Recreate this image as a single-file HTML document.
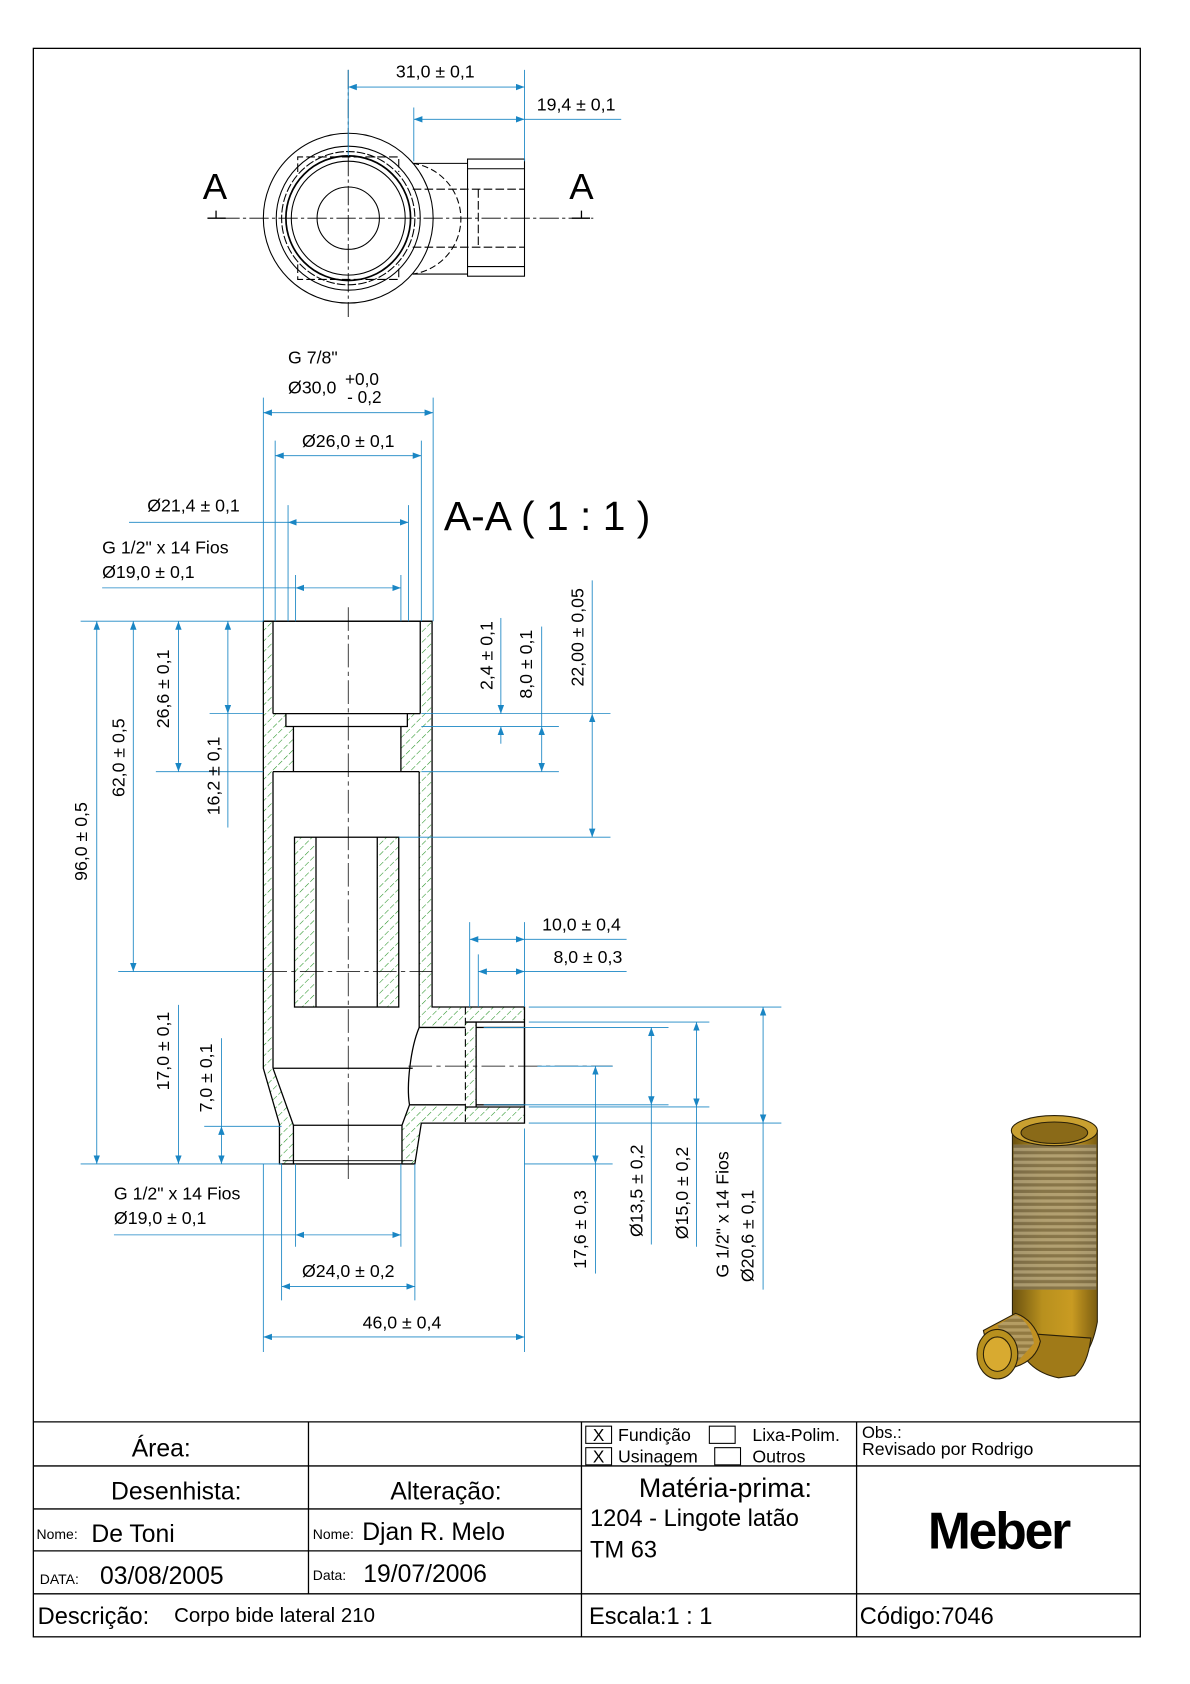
<!DOCTYPE html>
<html><head><meta charset="utf-8">
<style>
html,body{margin:0;padding:0;background:#fff;}
svg{display:block;}
text{font-family:"Liberation Sans",Arial,sans-serif;}
</style></head>
<body>
<svg width="1190" height="1684" viewBox="0 0 1107.2 1566.9" xmlns="http://www.w3.org/2000/svg">
<defs>
<marker id="ar" viewBox="0 0 8 6" refX="8" refY="3" markerWidth="8" markerHeight="6" markerUnits="userSpaceOnUse" orient="auto-start-reverse"><path d="M0,0 L8,3 L0,6 z" fill="#1a86c4"/></marker>
<pattern id="h" patternUnits="userSpaceOnUse" width="7" height="7" patternTransform="rotate(45)"><line x1="0" y1="0" x2="0" y2="7" stroke="#1f8f1f" stroke-width="1" stroke-dasharray="5 2"/></pattern>
<linearGradient id="cyl" x1="0" x2="1" y1="0" y2="0"><stop offset="0" stop-color="#6b5210"/><stop offset="0.35" stop-color="#b8901e"/><stop offset="0.7" stop-color="#c99b22"/><stop offset="1" stop-color="#7a5c10"/></linearGradient>
<pattern id="thr" patternUnits="userSpaceOnUse" width="10" height="6"><rect width="10" height="6" fill="#7e7050"/><rect y="0" width="10" height="3" fill="#b0a27f"/></pattern>
</defs>

<rect x="31" y="45" width="1030" height="1478" fill="none" stroke="#000" stroke-width="1.2"/>

<!-- TOP VIEW -->
<g fill="none" stroke="#000" stroke-width="1">
<circle cx="324" cy="203" r="79"/>
<circle cx="324" cy="203" r="67"/>
<circle cx="324" cy="203" r="62" stroke-dasharray="8 2"/>
<circle cx="324" cy="203" r="58" stroke-width="1.6"/>
<circle cx="324" cy="203" r="53"/>
<circle cx="324" cy="203" r="29"/>
<path d="M277,160 V146 H371 V160 M277,246 V260 H371 V246" stroke-dasharray="8 3"/>
<path d="M384,152 L435,152 M384,255 L435,255"/>
<path d="M384,152 A52,52 0 0 1 384,255" stroke-dasharray="6 3"/>
<rect x="435" y="148" width="53" height="109"/>
<path d="M435,157 H488 M435,248 H488"/>
<path d="M384,176 H488 M384,230 H488 M445,176 V230" stroke-dasharray="8 3"/>
</g>
<g stroke="#000" stroke-width="0.8" fill="none">
<path d="M205,203 H552" stroke-dasharray="18 3 3 3"/>
<path d="M324,65 V295" stroke-dasharray="18 3 3 3"/>
<path d="M193,203 H210 M201,196 V203 M532,203 H549 M541,196 V203" stroke-width="1.2"/>
</g>
<text x="200" y="185" font-size="34" text-anchor="middle">A</text>
<text x="541" y="185" font-size="34" text-anchor="middle">A</text>

<g stroke="#1a86c4" stroke-width="0.8" fill="none">
<path d="M324,65 V145 M385,100 V150 M488,65 V150"/>
<path d="M324,81 H488" marker-start="url(#ar)" marker-end="url(#ar)"/>
<path d="M385,111 H488" marker-start="url(#ar)" marker-end="url(#ar)"/>
<path d="M488,111 H578"/>
</g>
<g font-size="16.5" fill="#000">
<text x="405" y="72" text-anchor="middle">31,0 ± 0,1</text>
<text x="536" y="103" text-anchor="middle">19,4 ± 0,1</text>
</g>

<!-- SECTION -->
<text x="413" y="493" font-size="38">A-A  ( 1 : 1 )</text>

<g fill="url(#h)" stroke="none">
<path d="M245,578 H254 V664 H266 V676 H273 V718 H254 V994 L273,1047 V1083 H260 V1046 L245,994 Z"/>
<path d="M391,578 H402 V937 H433 V956 H390 V718 H373 V676 H379 V664 H391 Z"/>
<path d="M433,937 H488 V951 H443 V1030 H488 V1045 H433 Z"/>
<path d="M381,1028 H433 V1045 H392 L386,1083 H374 V1047 Z"/>
<rect x="274" y="779" width="20" height="158"/>
<rect x="351" y="779" width="20" height="158"/>
</g>
<g fill="none" stroke="#000" stroke-width="1.2">
<path d="M245,578 V994 L260,1046 V1083 H386 L392,1045 H433 V1045 H488 V937 H433 H402 V578 Z"/>
<path d="M245,578 H402"/>
<path d="M254,578 V664 M391,578 V664"/>
<path d="M254,664 H391 M266,664 V676 H379 V664 M266,676 H273 M373,676 H379"/>
<path d="M273,676 V718 M373,676 V718"/>
<path d="M254,718 H390"/>
<path d="M254,718 V994 M390,718 V956"/>
<rect x="274" y="779" width="97" height="158"/>
<path d="M294,779 V937 M351,779 V937"/>
<path d="M254,994 H384"/>
<path d="M254,994 L273,1047 M273,1047 H374 M273,1047 V1083 M374,1047 V1083"/>
<path d="M263,1080 H384" stroke-width="0.8"/>
<path d="M390,956 H433 M390,956 C382,975 378,1010 381,1028 L374,1047 M381,1028 H433"/>
<path d="M433,951 H488 M433,1030 H488"/>
<rect x="443" y="956" width="45" height="72"/>
<path d="M443,951 V956 M443,1028 V1030"/>
</g>
<path d="M433,937 V1045" stroke="#000" stroke-dasharray="7 3" stroke-width="1"/>
<g stroke="#000" stroke-width="0.7" fill="none" stroke-dasharray="22 4 4 4">
<path d="M324,565 V1098"/>
<path d="M380,992 H570"/>
<path d="M245,904 H402"/>
</g>

<g stroke="#1a86c4" stroke-width="0.8" fill="none">
<path d="M245,370 V578 M403,370 V578 M256,410 V578 M392,410 V578 M268,470 V578 M380,470 V578 M275,535 V578 M373,535 V578"/>
<path d="M245,384 H403" marker-start="url(#ar)" marker-end="url(#ar)"/>
<path d="M256,424 H392" marker-start="url(#ar)" marker-end="url(#ar)"/>
<path d="M268,486 H380" marker-start="url(#ar)" marker-end="url(#ar)"/>
<path d="M120,486 H268"/>
<path d="M275,547 H373" marker-start="url(#ar)" marker-end="url(#ar)"/>
<path d="M95,547 H275"/>
<path d="M75,578 H245 M145,718 H245 M195,664 H245 M110,904 H245 M75,1083 H262 M190,1048 H262"/>
<path d="M90,578 V1083" marker-start="url(#ar)" marker-end="url(#ar)"/>
<path d="M124,578 V904" marker-start="url(#ar)" marker-end="url(#ar)"/>
<path d="M166,578 V718" marker-start="url(#ar)" marker-end="url(#ar)"/>
<path d="M212,578 V664" marker-start="url(#ar)" marker-end="url(#ar)"/>
<path d="M212,664 V770"/>
<path d="M166,935 V1083" marker-end="url(#ar)"/>
<path d="M206,966 V1048"/>
<path d="M206,1048 V1083" marker-start="url(#ar)" marker-end="url(#ar)"/>
<path d="M392,664 H568 M392,676 H520 M392,718 H520 M371,779 H568"/>
<path d="M466,575 V664" marker-end="url(#ar)"/>
<path d="M466,692 V676" marker-end="url(#ar)"/>
<path d="M504,583 V676"/>
<path d="M504,676 V718" marker-start="url(#ar)" marker-end="url(#ar)"/>
<path d="M551,540 V664"/>
<path d="M551,664 V779" marker-start="url(#ar)" marker-end="url(#ar)"/>
<path d="M437,858 V937 M445,888 V937 M488,858 V937"/>
<path d="M437,874 H488" marker-start="url(#ar)" marker-end="url(#ar)"/>
<path d="M488,874 H583"/>
<path d="M445,904 H488" marker-start="url(#ar)" marker-end="url(#ar)"/>
<path d="M488,904 H583"/>
<path d="M492,937 H727 M492,951 H660 M450,956 H622 M450,1028 H622 M492,1030 H660 M492,1045 H727 M500,992 H570 M488,1083 H570"/>
<path d="M554,992 V1083" marker-start="url(#ar)" marker-end="url(#ar)"/>
<path d="M554,1083 V1185"/>
<path d="M606,956 V1028" marker-start="url(#ar)" marker-end="url(#ar)"/>
<path d="M606,1028 V1158"/>
<path d="M648,951 V1030" marker-start="url(#ar)" marker-end="url(#ar)"/>
<path d="M648,1030 V1160"/>
<path d="M710,937 V1045" marker-start="url(#ar)" marker-end="url(#ar)"/>
<path d="M710,1045 V1200"/>
<path d="M245,1083 V1258 M262,1083 V1210 M275,1083 V1160 M373,1083 V1160 M386,1083 V1210 M488,1050 V1258"/>
<path d="M275,1149 H373" marker-start="url(#ar)" marker-end="url(#ar)"/>
<path d="M106,1149 H275"/>
<path d="M262,1197 H386" marker-start="url(#ar)" marker-end="url(#ar)"/>
<path d="M245,1244 H488" marker-start="url(#ar)" marker-end="url(#ar)"/>
</g>

<g font-size="16.5" fill="#000">
<text x="268" y="338">G 7/8"</text>
<text x="268" y="366">Ø30,0</text>
<text x="321" y="358" font-size="16">+0,0</text>
<text x="323" y="375" font-size="16">- 0,2</text>
<text x="324" y="416" text-anchor="middle">Ø26,0 ± 0,1</text>
<text x="137" y="476">Ø21,4 ± 0,1</text>
<text x="95" y="515">G 1/2" x 14 Fios</text>
<text x="95" y="538">Ø19,0 ± 0,1</text>
<text transform="translate(81,783) rotate(-90)" text-anchor="middle">96,0 ± 0,5</text>
<text transform="translate(116,705) rotate(-90)" text-anchor="middle">62,0 ± 0,5</text>
<text transform="translate(157,641) rotate(-90)" text-anchor="middle">26,6 ± 0,1</text>
<text transform="translate(204,722) rotate(-90)" text-anchor="middle">16,2 ± 0,1</text>
<text transform="translate(157,978) rotate(-90)" text-anchor="middle">17,0 ± 0,1</text>
<text transform="translate(197,1003) rotate(-90)" text-anchor="middle">7,0 ± 0,1</text>
<text transform="translate(458,610) rotate(-90)" text-anchor="middle">2,4 ± 0,1</text>
<text transform="translate(495,618) rotate(-90)" text-anchor="middle">8,0 ± 0,1</text>
<text transform="translate(543,593) rotate(-90)" text-anchor="middle">22,00 ± 0,05</text>
<text x="541" y="866" text-anchor="middle">10,0 ± 0,4</text>
<text x="547" y="896" text-anchor="middle">8,0 ± 0,3</text>
<text transform="translate(545,1144) rotate(-90)" text-anchor="middle">17,6 ± 0,3</text>
<text transform="translate(598,1108) rotate(-90)" text-anchor="middle">Ø13,5 ± 0,2</text>
<text transform="translate(640,1110) rotate(-90)" text-anchor="middle">Ø15,0 ± 0,2</text>
<text transform="translate(678,1130) rotate(-90)" text-anchor="middle">G 1/2" x 14 Fios</text>
<text transform="translate(701,1150) rotate(-90)" text-anchor="middle">Ø20,6 ± 0,1</text>
<text x="106" y="1116">G 1/2" x 14 Fios</text>
<text x="106" y="1139">Ø19,0 ± 0,1</text>
<text x="324" y="1188" text-anchor="middle">Ø24,0 ± 0,2</text>
<text x="374" y="1236" text-anchor="middle">46,0 ± 0,4</text>
</g>

<!-- 3D render -->
<g stroke="#2a2008" stroke-width="1">
<path d="M942,1052 V1230 Q945,1262 962,1268 L1000,1268 Q1015,1262 1021,1230 V1052 Z" fill="url(#cyl)"/>
<rect x="943" y="1065" width="77" height="135" fill="url(#thr)" stroke="none" opacity="0.85"/>
<ellipse cx="981" cy="1052" rx="40" ry="14" fill="#c9a030"/>
<ellipse cx="981" cy="1054" rx="31" ry="10" fill="#8a6a18"/>
<path d="M945,1240 Q950,1275 985,1282 L1000,1280 Q1012,1270 1015,1245 Z" fill="#a07a18"/>
<path d="M915,1238 L945,1222 Q962,1228 968,1248 Q964,1266 944,1272 L925,1282 Z" fill="#c09022"/>
<path d="M928,1233 L945,1223 Q960,1232 962,1250 L944,1270 Z" fill="url(#thr)" stroke="none" opacity="0.7"/>
<ellipse cx="928" cy="1260" rx="19" ry="23" fill="#b8901e"/>
<ellipse cx="928" cy="1260" rx="13" ry="16" fill="#d8aa30"/>
</g>

<!-- TITLE BLOCK -->
<g stroke="#000" stroke-width="1.2" fill="none">
<path d="M31,1323 H1061 M31,1364 H1061 M31,1404 H541 M31,1443 H541 M31,1483 H1061"/>
<path d="M287,1323 V1483 M541,1323 V1523 M797,1323 V1523"/>
<rect x="545" y="1327" width="24" height="16" stroke-width="1"/>
<rect x="545" y="1347" width="24" height="16" stroke-width="1"/>
<rect x="660" y="1327" width="24" height="16" stroke-width="1"/>
<rect x="665" y="1347" width="24" height="16" stroke-width="1"/>
</g>
<g fill="#000">
<text x="150" y="1355" font-size="23" text-anchor="middle">Área:</text>
<text x="557" y="1341" font-size="16" text-anchor="middle">X</text>
<text x="557" y="1361" font-size="16" text-anchor="middle">X</text>
<text x="575" y="1341" font-size="16.5">Fundição</text>
<text x="575" y="1361" font-size="16.5">Usinagem</text>
<text x="700" y="1341" font-size="16.5">Lixa-Polim.</text>
<text x="700" y="1361" font-size="16.5">Outros</text>
<text x="802" y="1338" font-size="15.5">Obs.:</text>
<text x="802" y="1354" font-size="16.5">Revisado por Rodrigo</text>
<text x="164" y="1395" font-size="23" text-anchor="middle">Desenhista:</text>
<text x="415" y="1395" font-size="23" text-anchor="middle">Alteração:</text>
<text x="675" y="1393" font-size="25" text-anchor="middle">Matéria-prima:</text>
<text x="549" y="1420" font-size="22">1204 - Lingote latão</text>
<text x="549" y="1449" font-size="22">TM 63</text>
<text x="929" y="1441" font-size="48" font-weight="bold" text-anchor="middle" letter-spacing="-2">Meber</text>
<text x="34" y="1432" font-size="13">Nome:</text>
<text x="85" y="1435" font-size="23">De Toni</text>
<text x="291" y="1432" font-size="13">Nome:</text>
<text x="337" y="1433" font-size="23">Djan R. Melo</text>
<text x="37" y="1474" font-size="13">DATA:</text>
<text x="93" y="1474" font-size="23">03/08/2005</text>
<text x="291" y="1470" font-size="13">Data:</text>
<text x="338" y="1472" font-size="23">19/07/2006</text>
<text x="35" y="1511" font-size="22">Descrição:</text>
<text x="162" y="1509" font-size="19">Corpo bide lateral 210</text>
<text x="548" y="1511" font-size="22">Escala:1 : 1</text>
<text x="800" y="1511" font-size="22">Código:7046</text>
</g>
</svg>
</body></html>
